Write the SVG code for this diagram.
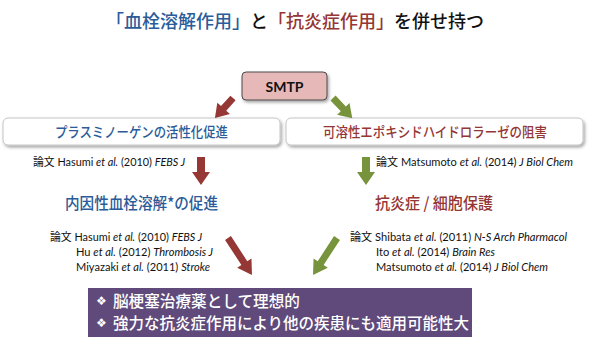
<svg xmlns="http://www.w3.org/2000/svg" width="590" height="344" viewBox="0 0 590 344">
<defs>
<filter id="sh" x="-10%" y="-20%" width="120%" height="160%">
<feDropShadow dx="1.5" dy="2" stdDeviation="1.5" flood-color="#000" flood-opacity="0.35"/>
</filter>
<style>
.jp{font-family:"Noto Sans CJK JP","Noto Sans",sans-serif;}
.cite{font-family:Lato,"Noto Sans CJK JP",sans-serif;font-size:11px;fill:#111;}
.blue{fill:#2b5c99;}
.red{fill:#943634;}
.box{fill:#fff;stroke:#c4c4c4;stroke-width:1;filter:url(#sh);}
.ar{fill:#953735;}
.ag{fill:#77933c;}
.w{fill:#fff;}
.t{font-size:18px;font-weight:500;}
</style>
</defs>
<rect width="590" height="344" fill="#fff"/>

<g id="title">
<text class="jp t" x="295" y="28" fill="#111" text-anchor="middle"><tspan class="blue">「血栓溶解作用」</tspan>と<tspan class="red">「抗炎症作用」</tspan>を併せ持つ</text>
</g>

<g id="smtp">
<rect x="242" y="72" width="85" height="28" rx="4" fill="#e6b9b8" stroke="#4a4a4a" stroke-width="1" filter="url(#sh)"/>
<text x="284.5" y="92" font-family="Lato,'Liberation Sans',sans-serif" font-weight="bold" font-size="14" text-anchor="middle" fill="#111">SMTP</text>
</g>

<g id="plasminogen">
<rect class="box" x="3" y="118" width="277" height="27" rx="5"/>
<text class="jp blue" x="55" y="136.5" font-size="14" font-weight="500" textLength="173" lengthAdjust="spacingAndGlyphs">プラスミノーゲンの活性化促進</text>
</g>

<g id="seh">
<rect class="box" x="286" y="118" width="297" height="27" rx="5"/>
<text class="jp red" x="323" y="136.5" font-size="14" font-weight="500" textLength="224" lengthAdjust="spacingAndGlyphs">可溶性エポキシドハイドロラーゼの阻害</text>
</g>

<g id="cite1">
<text class="cite" x="33" y="166" textLength="152" lengthAdjust="spacingAndGlyphs">論文 Hasumi <tspan font-style="italic">et al.</tspan> (2010) <tspan font-style="italic">FEBS J</tspan></text>
</g>

<g id="cite2">
<text class="cite" x="376" y="166" textLength="197" lengthAdjust="spacingAndGlyphs">論文 Matsumoto <tspan font-style="italic">et al.</tspan> (2014) <tspan font-style="italic">J Biol Chem</tspan></text>
</g>

<g id="fibrinolysis">
<text class="jp blue" x="65" y="208.5" font-size="16" font-weight="500" textLength="153" lengthAdjust="spacingAndGlyphs">内因性血栓溶解*の促進</text>
</g>

<g id="antiinflammation">
<text class="jp red" x="375" y="208.5" font-size="16" font-weight="500" textLength="118" lengthAdjust="spacingAndGlyphs">抗炎症 / 細胞保護</text>
</g>

<g id="cite3">
<text class="cite" x="50" y="241" textLength="152" lengthAdjust="spacingAndGlyphs">論文 Hasumi <tspan font-style="italic">et al.</tspan> (2010) <tspan font-style="italic">FEBS J</tspan></text>
<text class="cite" x="76" y="256" textLength="137" lengthAdjust="spacingAndGlyphs">Hu <tspan font-style="italic">et al.</tspan> (2012) <tspan font-style="italic">Thrombosis J</tspan></text>
<text class="cite" x="76" y="271" textLength="134" lengthAdjust="spacingAndGlyphs">Miyazaki <tspan font-style="italic">et al.</tspan> (2011) <tspan font-style="italic">Stroke</tspan></text>
</g>

<g id="cite4">
<text class="cite" x="350" y="241" textLength="217" lengthAdjust="spacingAndGlyphs">論文 Shibata <tspan font-style="italic">et al.</tspan> (2011) <tspan font-style="italic">N-S Arch Pharmacol</tspan></text>
<text class="cite" x="376" y="256" textLength="119" lengthAdjust="spacingAndGlyphs">Ito <tspan font-style="italic">et al.</tspan> (2014) <tspan font-style="italic">Brain Res</tspan></text>
<text class="cite" x="376" y="271" textLength="172" lengthAdjust="spacingAndGlyphs">Matsumoto <tspan font-style="italic">et al.</tspan> (2014) <tspan font-style="italic">J Biol Chem</tspan></text>
</g>

<g id="conclusion">
<rect x="88" y="288" width="384" height="49" fill="#5f4a7b"/>
<text class="w" x="96" y="305" font-family="'DejaVu Sans',sans-serif" font-size="12">❖</text>
<text class="jp w" x="113" y="306.5" font-size="16" font-weight="500" textLength="187" lengthAdjust="spacingAndGlyphs">脳梗塞治療薬として理想的</text>
<text class="w" x="96" y="327" font-family="'DejaVu Sans',sans-serif" font-size="12">❖</text>
<text class="jp w" x="113" y="328.5" font-size="16" font-weight="500" textLength="356" lengthAdjust="spacingAndGlyphs">強力な抗炎症作用により他の疾患にも適用可能性大</text>
</g>

<g id="connectors">
<path class="ar" transform="translate(233,98) rotate(132)" d="M0,-3.5 H14 V-8.5 L27,0 L14,8.5 V3.5 H0 Z"/>
<path class="ag" transform="translate(333,98) rotate(46.5)" d="M0,-3.5 H15 V-8.5 L28,0 L15,8.5 V3.5 H0 Z"/>
<path class="ar" transform="translate(201,157) rotate(90)" d="M0,-4 H15 V-9 L28,0 L15,9 V4 H0 Z"/>
<path class="ag" transform="translate(366,157) rotate(90)" d="M0,-4 H15 V-9 L28,0 L15,9 V4 H0 Z"/>
<path class="ar" transform="translate(228,238) rotate(57)" d="M0,-3.5 H30 V-8.5 L44,0 L30,8.5 V3.5 H0 Z"/>
<path class="ag" transform="translate(337,238) rotate(123)" d="M0,-3.5 H30 V-8.5 L44,0 L30,8.5 V3.5 H0 Z"/>
</g>
</svg>
